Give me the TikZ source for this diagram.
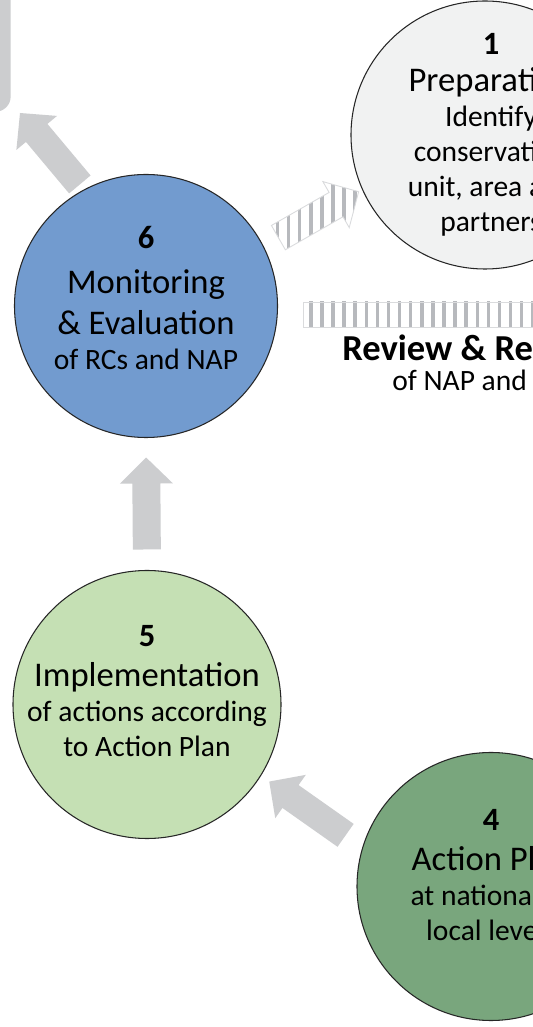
\documentclass[tikz,border=0pt]{standalone}
\usepackage{fontspec}
\setmainfont{Carlito}
\usetikzlibrary{calc, patterns.meta}

\definecolor{paleGray}{RGB}{241, 242, 242}
\definecolor{steelBlue}{RGB}{114, 155, 207}
\definecolor{paleGreen}{RGB}{197, 224, 180}
\definecolor{sageGreen}{RGB}{121, 166, 125}
\definecolor{arrowGray}{RGB}{204, 205, 207}
\definecolor{stripeGray}{RGB}{183, 185, 189}
\definecolor{edgeGray}{RGB}{218, 219, 221}

\newcommand{\circlenum}{\bfseries\fontsize{18.5}{20}\selectfont}
\newcommand{\circlehead}{\fontsize{19.7}{23.3}\selectfont}
\newcommand{\circlesub}{\fontsize{16.8}{19.9}\selectfont}

% block arrow from #2 to #3, cut back by #4 at the tail and #5 at the tip
\newcommand{\blockarrow}[5][]{%
  \coordinate (ba) at ($(#2)!#4!(#3)$);
  \coordinate (bb) at ($(#3)!#5!(#2)$);
  \coordinate (bh) at ($(bb)!0.52cm!(ba)$);
  \path[#1] ($(ba)!0.28cm!90:(bb)$) -- ($(bh)!0.28cm!90:(bb)$) -- ($(bh)!0.53cm!90:(bb)$) -- (bb)
    -- ($(bh)!0.53cm!-90:(bb)$) -- ($(bh)!0.28cm!-90:(bb)$) -- ($(ba)!0.28cm!-90:(bb)$) -- cycle;
}

\begin{document}
\begin{tikzpicture}[
  circ/.style={circle, draw=black!85, line width=0.6pt, minimum size=5.36cm, inner sep=0pt},
  txt/.style={align=center, font=\circlesub, inner sep=0pt},
  solidarrow/.style={fill=arrowGray},
  hatched/.style={draw=edgeGray, line width=0.5pt, pattern={Lines[angle=90, distance=0.222cm, line width=0.07cm]}, pattern color=stripeGray}
]

% Canvas
\path[use as bounding box, clip] (0,0) rectangle (10.66,20.54);
\fill[white] (0,0) rectangle (10.66,20.54);

% Stages
\node[circ, fill=paleGray] (c1) at (9.70,17.84) {};
\node[circ, fill=steelBlue, minimum size=5.26cm] (c6) at (2.92,14.42) {};
\node[circ, fill=paleGreen] (c5) at (2.94,6.45) {};
\node[circ, fill=sageGreen] (c4) at (9.82,2.81) {};

% Box in the corner
\node[fill=arrowGray, rounded corners=0.3cm, minimum width=3cm, minimum height=3cm, anchor=south east] (outbox) at (0.22,18.30) {};
\coordinate (boxtip) at (0.40,18.28);

% Stage texts
\node[txt] (t1) at ([xshift=0.12cm]c1) {{\circlenum 1}\\[1pt] {\circlehead Preparation}\\ Identify\\ conservation\\ unit, area and\\ partners};
\node[txt] (t6) at ([yshift=0.16cm]c6) {{\circlenum 6}\\[5.7pt] {\circlehead Monitoring}\\[3.4pt] {\circlehead \& Evaluation}\\ of RCs and NAP};
\node[txt] (t5) at ([yshift=0.27cm]c5) {{\circlenum 5}\\[2.9pt] {\circlehead Implementation}\\ of actions according\\ to Action Plan};
\node[txt] (t4) at ([yshift=0.23cm]c4) {{\circlenum 4}\\[2.9pt] {\circlehead Action Plan}\\ at national or\\ local levels};

% Review bar and its label
\draw[hatched] (6.06,14.00) rectangle (11.2,14.50);
\node[font=\bfseries\fontsize{20.8}{24}\selectfont, anchor=base west, inner sep=0pt] (review) at (6.84,13.32) {Review \& Revision};
\node[font=\circlesub, anchor=base west, inner sep=0pt] (reviewsub) at (7.84,12.72) {of NAP and RCs};

% Arrows between stages
\blockarrow[solidarrow]{c6.118}{boxtip}{0.13cm}{0cm}
\blockarrow[hatched]{c6.27}{c1.204}{0.34cm}{0.08cm}
\blockarrow[solidarrow]{c5.north}{c6.south}{0.41cm}{0.39cm}
\blockarrow[solidarrow]{c4.163}{c5.-32}{0.41cm}{0.2cm}

\end{tikzpicture}
\end{document}
